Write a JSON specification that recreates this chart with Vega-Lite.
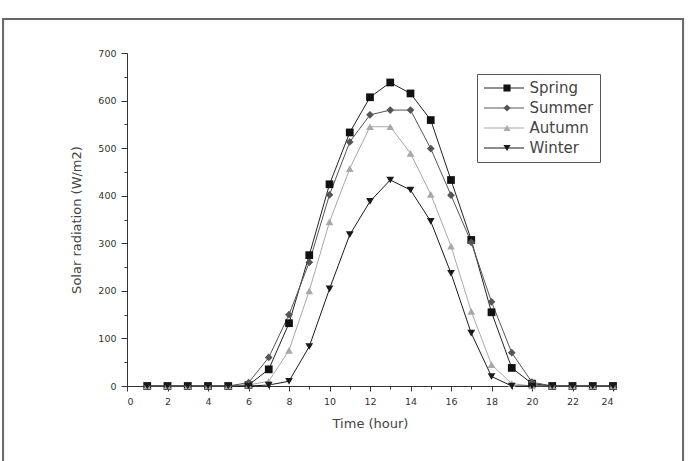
{
  "$schema": "https://vega.github.io/schema/vega-lite/v6.json",
  "width": 486,
  "height": 333,
  "autosize": "none",
  "padding": {"left": 127, "top": 53, "right": 83, "bottom": 75},
  "background": "white",
  "config": {
    "view": {"stroke": null},
    "font": "DejaVu Sans",
    "axis": {
      "domainColor": "#333",
      "tickColor": "#333",
      "labelColor": "#333",
      "labelFont": "DejaVu Sans",
      "labelFontSize": 9.5,
      "titleFont": "DejaVu Sans",
      "titleFontSize": 13,
      "titleFontWeight": "normal",
      "titleColor": "#444",
      "grid": false
    }
  },
  "data": {
    "values": [
      {"hour": 1, "season": "Spring", "value": 0}, {"hour": 2, "season": "Spring", "value": 0}, {"hour": 3, "season": "Spring", "value": 0}, {"hour": 4, "season": "Spring", "value": 0}, {"hour": 5, "season": "Spring", "value": 0}, {"hour": 6, "season": "Spring", "value": 2}, {"hour": 7, "season": "Spring", "value": 35}, {"hour": 8, "season": "Spring", "value": 132}, {"hour": 9, "season": "Spring", "value": 275}, {"hour": 10, "season": "Spring", "value": 424}, {"hour": 11, "season": "Spring", "value": 533}, {"hour": 12, "season": "Spring", "value": 607}, {"hour": 13, "season": "Spring", "value": 638}, {"hour": 14, "season": "Spring", "value": 615}, {"hour": 15, "season": "Spring", "value": 559}, {"hour": 16, "season": "Spring", "value": 433}, {"hour": 17, "season": "Spring", "value": 307}, {"hour": 18, "season": "Spring", "value": 155}, {"hour": 19, "season": "Spring", "value": 38}, {"hour": 20, "season": "Spring", "value": 5}, {"hour": 21, "season": "Spring", "value": 0}, {"hour": 22, "season": "Spring", "value": 0}, {"hour": 23, "season": "Spring", "value": 0}, {"hour": 24, "season": "Spring", "value": 0},
      {"hour": 1, "season": "Summer", "value": 0}, {"hour": 2, "season": "Summer", "value": 0}, {"hour": 3, "season": "Summer", "value": 0}, {"hour": 4, "season": "Summer", "value": 0}, {"hour": 5, "season": "Summer", "value": 0}, {"hour": 6, "season": "Summer", "value": 7}, {"hour": 7, "season": "Summer", "value": 60}, {"hour": 8, "season": "Summer", "value": 150}, {"hour": 9, "season": "Summer", "value": 260}, {"hour": 10, "season": "Summer", "value": 402}, {"hour": 11, "season": "Summer", "value": 513}, {"hour": 12, "season": "Summer", "value": 570}, {"hour": 13, "season": "Summer", "value": 580}, {"hour": 14, "season": "Summer", "value": 580}, {"hour": 15, "season": "Summer", "value": 499}, {"hour": 16, "season": "Summer", "value": 401}, {"hour": 17, "season": "Summer", "value": 302}, {"hour": 18, "season": "Summer", "value": 177}, {"hour": 19, "season": "Summer", "value": 70}, {"hour": 20, "season": "Summer", "value": 8}, {"hour": 21, "season": "Summer", "value": 0}, {"hour": 22, "season": "Summer", "value": 0}, {"hour": 23, "season": "Summer", "value": 0}, {"hour": 24, "season": "Summer", "value": 0},
      {"hour": 1, "season": "Autumn", "value": 0}, {"hour": 2, "season": "Autumn", "value": 0}, {"hour": 3, "season": "Autumn", "value": 0}, {"hour": 4, "season": "Autumn", "value": 0}, {"hour": 5, "season": "Autumn", "value": 0}, {"hour": 6, "season": "Autumn", "value": 2}, {"hour": 7, "season": "Autumn", "value": 10}, {"hour": 8, "season": "Autumn", "value": 75}, {"hour": 9, "season": "Autumn", "value": 200}, {"hour": 10, "season": "Autumn", "value": 345}, {"hour": 11, "season": "Autumn", "value": 457}, {"hour": 12, "season": "Autumn", "value": 545}, {"hour": 13, "season": "Autumn", "value": 545}, {"hour": 14, "season": "Autumn", "value": 489}, {"hour": 15, "season": "Autumn", "value": 403}, {"hour": 16, "season": "Autumn", "value": 294}, {"hour": 17, "season": "Autumn", "value": 157}, {"hour": 18, "season": "Autumn", "value": 45}, {"hour": 19, "season": "Autumn", "value": 5}, {"hour": 20, "season": "Autumn", "value": 0}, {"hour": 21, "season": "Autumn", "value": 0}, {"hour": 22, "season": "Autumn", "value": 0}, {"hour": 23, "season": "Autumn", "value": 0}, {"hour": 24, "season": "Autumn", "value": 0},
      {"hour": 1, "season": "Winter", "value": 0}, {"hour": 2, "season": "Winter", "value": 0}, {"hour": 3, "season": "Winter", "value": 0}, {"hour": 4, "season": "Winter", "value": 0}, {"hour": 5, "season": "Winter", "value": 0}, {"hour": 6, "season": "Winter", "value": 0}, {"hour": 7, "season": "Winter", "value": 2}, {"hour": 8, "season": "Winter", "value": 10}, {"hour": 9, "season": "Winter", "value": 83}, {"hour": 10, "season": "Winter", "value": 204}, {"hour": 11, "season": "Winter", "value": 318}, {"hour": 12, "season": "Winter", "value": 388}, {"hour": 13, "season": "Winter", "value": 433}, {"hour": 14, "season": "Winter", "value": 412}, {"hour": 15, "season": "Winter", "value": 346}, {"hour": 16, "season": "Winter", "value": 237}, {"hour": 17, "season": "Winter", "value": 111}, {"hour": 18, "season": "Winter", "value": 20}, {"hour": 19, "season": "Winter", "value": 0}, {"hour": 20, "season": "Winter", "value": 0}, {"hour": 21, "season": "Winter", "value": 0}, {"hour": 22, "season": "Winter", "value": 0}, {"hour": 23, "season": "Winter", "value": 0}, {"hour": 24, "season": "Winter", "value": 0}
    ]
  },
  "resolve": {"axis": {"x": "independent", "y": "independent"}},
  "layer": [
    {
      "data": {"values": [{}]},
      "mark": {"type": "rect", "fill": null, "stroke": "#666", "strokeWidth": 2, "clip": false},
      "encoding": {
        "x": {"datum": -6.12, "type": "quantitative", "scale": {"domain": [0, 24], "nice": false, "zero": false},
          "axis": {"orient": "bottom", "values": [1, 3, 5, 7, 9, 11, 13, 15, 17, 19, 21, 23], "labels": false, "domain": false, "tickSize": 3, "title": null}},
        "x2": {"datum": 27.46},
        "y": {"datum": 771.5, "type": "quantitative", "scale": {"domain": [0, 700], "nice": false, "zero": false},
          "axis": {"orient": "left", "values": [50, 150, 250, 350, 450, 550, 650], "labels": false, "domain": false, "tickSize": 3, "title": null}},
        "y2": {"datum": -180}
      }
    },
    {
      "mark": {"type": "line", "strokeWidth": 1},
      "encoding": {
        "x": {"field": "hour", "type": "quantitative", "scale": {"domain": [0, 24], "nice": false, "zero": false},
          "axis": {"orient": "bottom", "values": [0, 2, 4, 6, 8, 10, 12, 14, 16, 18, 20, 22, 24], "tickSize": 5, "labelPadding": 5, "title": "Time (hour)", "titlePadding": 12}},
        "y": {"field": "value", "type": "quantitative", "scale": {"domain": [0, 700], "nice": false, "zero": false},
          "axis": {"orient": "left", "values": [0, 100, 200, 300, 400, 500, 600, 700], "tickSize": 6, "labelPadding": 5, "title": "Solar radiation (W/m2)", "titlePadding": 14}},
        "stroke": {"field": "season", "type": "nominal", "sort": ["Spring", "Summer", "Autumn", "Winter"],
          "scale": {"range": ["#222222", "#555555", "#a8a8a8", "#1a1a1a"]},
          "legend": {
            "title": null,
            "orient": "none",
            "legendX": 350,
            "legendY": 21,
            "padding": 6,
            "symbolType": "stroke",
            "symbolSize": 1600,
            "symbolStrokeWidth": 1.2,
            "clipHeight": 16,
            "rowPadding": 4,
            "labelOffset": 5,
            "labelExpr": "''",
            "labelFontSize": 15
          }},
        "detail": {"field": "season"}
      }
    },
    {
      "mark": {"type": "point", "filled": true, "opacity": 1, "size": 60},
      "encoding": {
        "x": {"field": "hour", "type": "quantitative", "scale": {"domain": [0, 24], "nice": false, "zero": false}, "axis": null},
        "y": {"field": "value", "type": "quantitative", "scale": {"domain": [0, 700], "nice": false, "zero": false}, "axis": null},
        "color": {"field": "season", "type": "nominal",
          "scale": {"domain": ["Spring", "Summer", "Autumn", "Winter"], "range": ["#111111", "#555555", "#a8a8a8", "#1a1a1a"]},
          "legend": {
            "title": null,
            "orient": "none",
            "legendX": 350,
            "legendY": 21,
            "padding": 6,
            "strokeColor": "#555",
            "symbolSize": 50,
            "symbolOffset": 16.5,
            "clipHeight": 16,
            "rowPadding": 4,
            "labelOffset": 15,
            "labelFont": "DejaVu Sans",
            "labelFontSize": 15,
            "labelColor": "#444",
            "symbolStrokeWidth": 0,
            "symbolOpacity": 1
          }
        },
        "shape": {"field": "season", "type": "nominal",
          "scale": {"domain": ["Spring", "Summer", "Autumn", "Winter"], "range": ["square", "diamond", "triangle-up", "triangle-down"]}}
      }
    }
  ]
}
